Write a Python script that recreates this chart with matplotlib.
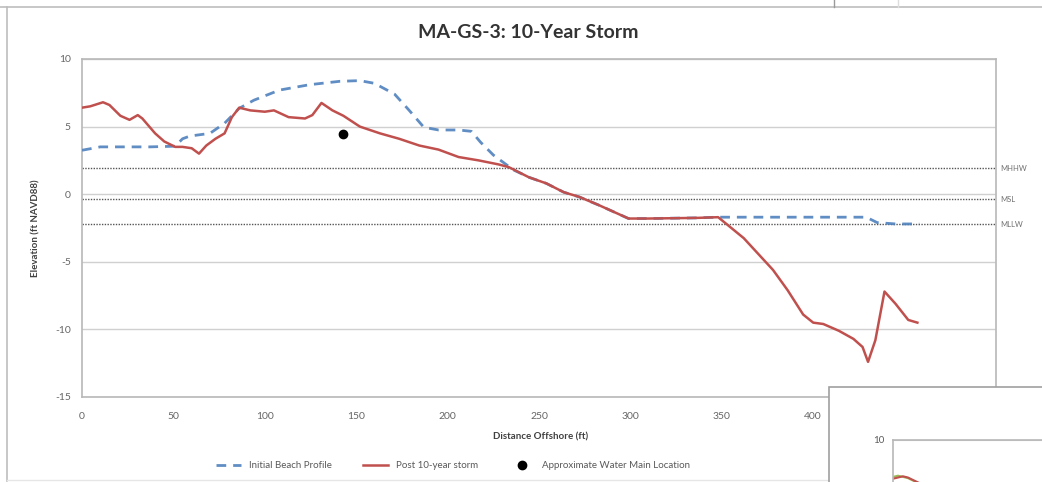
import matplotlib
matplotlib.use("Agg")
import matplotlib.pyplot as plt
from matplotlib.patches import Rectangle
from matplotlib.lines import Line2D

# ---------------- data ----------------
initial_x = [0, 10, 37, 51, 55, 59, 70, 78, 86, 94, 108, 124.5, 141, 152, 160, 171, 179,
             187, 195, 206, 213, 218, 225, 233.5, 236, 244.5, 254, 263.5, 272, 282.6, 299,
             310, 337, 348, 362, 400, 429, 435, 445, 458]
initial_y = [3.25, 3.5, 3.5, 3.55, 4.1, 4.3, 4.5, 5.25, 6.35, 6.95, 7.7, 8.1, 8.35, 8.4, 8.2,
             7.4, 6.2, 4.95, 4.75, 4.75, 4.65, 3.85, 2.9, 2.05, 1.8, 1.25, 0.8, 0.15, -0.2,
             -0.8, -1.8, -1.8, -1.75, -1.7, -1.7, -1.7, -1.7, -2.1, -2.2, -2.2]

post_x = [0, 4.5, 11.5, 15, 21, 26, 30.5, 33, 40, 45, 51, 55, 60, 64, 68, 73, 78, 82, 86, 92,
          100, 105, 113, 122, 126, 131, 137, 143, 152, 163, 173.5, 184.5, 195, 206, 217, 228,
          233.5, 244.5, 254, 263.5, 272, 282.6, 299, 310, 337, 348, 362, 378, 386, 394.5,
          400, 405.5, 414, 422, 427, 430, 434, 439, 445, 452, 457]
post_y = [6.4, 6.5, 6.8, 6.6, 5.8, 5.5, 5.85, 5.6, 4.5, 3.9, 3.5, 3.5, 3.4, 3.0, 3.6, 4.1,
          4.5, 5.7, 6.4, 6.2, 6.1, 6.2, 5.7, 5.6, 5.85, 6.75, 6.2, 5.8, 5.0, 4.5, 4.1, 3.6,
          3.3, 2.75, 2.5, 2.2, 2.0, 1.25, 0.8, 0.15, -0.2, -0.8, -1.8, -1.8, -1.75, -1.7,
          -3.25, -5.6, -7.1, -8.9, -9.5, -9.6, -10.1, -10.7, -11.3, -12.4, -10.8, -7.2,
          -8.1, -9.3, -9.5]

water_main_x = [143]
water_main_y = [4.45]

datum_names = ["MHHW", "MSL", "MLLW"]
datum_levels = [1.92, -0.39, -2.22]

x_ticks = [0, 50, 100, 150, 200, 250, 300, 350, 400, 450, 500]
y_ticks = [-15, -10, -5, 0, 5, 10]

title = "MA-GS-3: 10-Year Storm"
x_label = "Distance Offshore (ft)"
y_label = "Elevation (ft NAVD88)"
legend_labels = ["Initial Beach Profile", "Post 10-year storm", "Approximate Water Main Location"]

# inset (partly hidden second chart)
inset_x = [0, 5, 10, 15, 20, 30]
inset_green = [3.9, 4.1, 3.9, 3.7, 3.3, 2.5]
inset_red = [3.6, 3.8, 4.0, 3.8, 3.4, 2.6]

# ---------------- figure ----------------
plt.rcParams['font.family'] = ['Lato', 'DejaVu Sans']
W, H = 1042, 482
fig = plt.figure(figsize=(W / 100, H / 100), dpi=100)
fig.patch.set_facecolor('white')

def fx(px):
    return px / W

def fy(py):
    return 1 - py / H

# spreadsheet strip at top & chart border
fig.add_artist(Line2D([fx(0), fx(W)], [fy(6.5), fy(6.5)], color='#bdbdbd', lw=1.2))
fig.add_artist(Line2D([fx(834), fx(834)], [fy(0), fy(6.5)], color='#9a9a9a', lw=1.0))
fig.add_artist(Line2D([fx(898), fx(898)], [fy(0), fy(6.5)], color='#dddddd', lw=1.0))
fig.add_artist(Line2D([fx(6.5), fx(6.5)], [fy(6.5), fy(481)], color='#bdbdbd', lw=1.2))
fig.add_artist(Line2D([fx(6.5), fx(W)], [fy(480), fy(480)], color='#e6e6e6', lw=1.0))

L, R, T, B = 82, 996, 59, 397
ax = fig.add_axes([fx(L), fy(B), fx(R - L), fy(T) - fy(B)])
ax.set_xlim(0, 500)
ax.set_ylim(-15, 10)

for s in ax.spines.values():
    s.set_color('#b8b8b8')
    s.set_linewidth(1.2)
ax.set_xticks(x_ticks[:-2])
ax.set_yticks(y_ticks)
ax.tick_params(length=0, labelsize=7.5, colors='#666666')
ax.tick_params(axis='x', pad=11)
ax.tick_params(axis='y', pad=8)
ax.set_yticklabels([str(v) for v in y_ticks])
ax.grid(axis='y', color='#d0d0d0', lw=1.0)
ax.set_axisbelow(True)

for lvl in datum_levels:
    ax.axhline(lvl, color='#555555', lw=1.0, ls=(0, (1, 1)), zorder=2)
for name, lvl in zip(datum_names, datum_levels):
    ax.text(1.005, lvl, name, transform=ax.get_yaxis_transform(), ha='left', va='center',
            fontsize=5.5, color='#707070')

ax.plot(initial_x, initial_y, color='#4f81bd', lw=2.0, ls=(0, (3.5, 2.5)),
        label=legend_labels[0], zorder=3, alpha=0.9)
ax.plot(post_x, post_y, color='#c0504d', lw=1.8, label=legend_labels[1], zorder=4)
ax.plot(water_main_x, water_main_y, 'o', color='black', ms=6, ls='none',
        label=legend_labels[2], zorder=5)

ax.set_xlabel(x_label, fontsize=7, fontweight='bold', color='#404040')
ax.set_ylabel(y_label, fontsize=7, fontweight='bold', color='#404040')
ax.xaxis.set_label_coords((541 - L) / (R - L), -(432 - B) / (B - T))
ax.yaxis.set_label_coords(-(L - 40) / (R - L), 0.5)

fig.text(fx(528), fy(33), title, ha='center', va='center', fontsize=14,
         fontweight='bold', color='#333333')

leg = fig.legend(loc='center', bbox_to_anchor=(fx(453), fy(466)), ncol=3, frameon=False,
                 fontsize=7, handlelength=2.6, columnspacing=3.2, handletextpad=0.8)
for t in leg.get_texts():
    t.set_color('#595959')

# overlapping second chart window (bottom-right)
fig.add_artist(Rectangle((fx(829), fy(H + 5)), fx(W - 829 + 10), fy(387) - fy(H + 5),
                         facecolor='white', edgecolor='#a0a0a0', lw=1.2, zorder=10))
ax2 = fig.add_axes([fx(893), fy(H + 200), fx(W - 893 + 50), fy(440) - fy(H + 200)], zorder=11)
ax2.set_xlim(0, 200)
ax2.set_ylim(-30, 10)
ax2.set_yticks([10])
ax2.set_xticks([])
ax2.tick_params(length=0, labelsize=7, colors='#595959', pad=6)
ax2.grid(axis='y', color='#cccccc')
for s in ax2.spines.values():
    s.set_color('#b8b8b8')
    s.set_linewidth(1.2)
ax2.plot(inset_x, inset_green, color='#9bbb59', lw=1.5)
ax2.plot(inset_x, inset_red, color='#c0504d', lw=1.5)

fig.savefig('out.png', dpi=100, facecolor='white')
